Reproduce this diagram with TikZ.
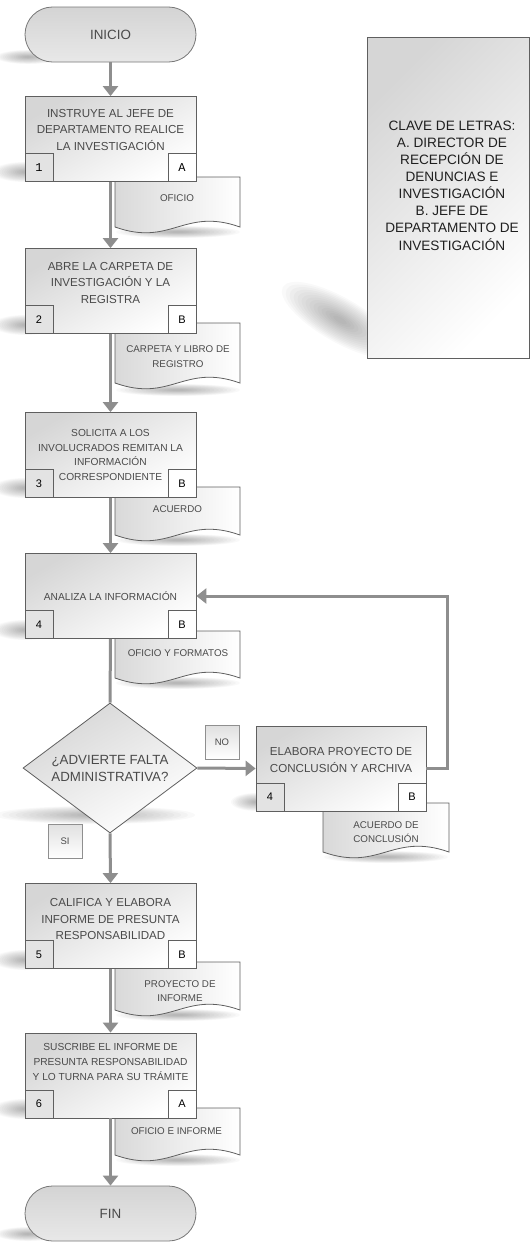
\documentclass[tikz,border=0pt]{standalone}
\usepackage{fontspec}
\setmainfont{Liberation Sans}
\newfontfamily\monofont{Liberation Mono}
\usetikzlibrary{arrows.meta,shapes.geometric}
\definecolor{linegray}{HTML}{8E8E8E}
\definecolor{edgegray}{HTML}{5F5F5F}
\definecolor{txtgray}{HTML}{4A4A4A}
\newcommand\softshadow[4]{\foreach \k in {0,...,13}{\fill[black,opacity=0.024] (#1,#2) ellipse [x radius={#3*(1-0.068*\k)*1pt}, y radius={#4*(1-0.068*\k)*1pt}];}}
\newcommand\docpath[4]{\path[docshape] (#1,#2) -- ({#1+#3},#2) -- ({#1+#3},{#2+#4}) .. controls ({#1+0.55*#3},{#2+#4-20}) and ({#1+0.45*#3},{#2+#4+20}) .. (#1,{#2+#4}) -- cycle;}
\tikzset{
 flow/.style={draw=linegray, line width=3pt, -{Triangle[width=15pt,length=10pt]}},
 plainflow/.style={draw=linegray, line width=3pt},
 procbox/.style={draw=edgegray, line width=0.8pt, top color=black!16, bottom color=white, shading angle=30, minimum width=171pt, minimum height=85pt, inner sep=0pt},
 termbox/.style={draw=edgegray!85, line width=0.8pt, top color=black!17, bottom color=black!9, minimum width=171pt, minimum height=55pt, rounded corners=27.5pt, inner sep=0pt, font=\fontsize{13.4}{16}\selectfont, text=txtgray},
 numbox/.style={draw=edgegray, line width=0.8pt, fill=black!11, minimum width=28pt, minimum height=28pt, inner sep=0pt, font=\fontsize{11}{13}\selectfont, text=black},
 letbox/.style={numbox, fill=white},
 boxtxt/.style={align=center, text=txtgray, font=\fontsize{11.6}{16.6}\selectfont, inner sep=0pt},
 boxtxts/.style={align=center, text=txtgray, font=\fontsize{10.2}{14.6}\selectfont, inner sep=0pt},
 doctxt/.style={align=center, text=txtgray, font=\fontsize{9.8}{14.5}\selectfont, inner sep=0pt},
 docshape/.style={draw=edgegray, line width=0.8pt, left color=black!15, right color=white},
 tagbox/.style={draw=edgegray!70, line width=0.6pt, top color=black!12, bottom color=white, minimum width=34pt, minimum height=34pt, inner sep=0pt, font=\fontsize{9.5}{11}\selectfont, text=txtgray},
}
\begin{document}
\begin{tikzpicture}[x=1pt,y=-1pt]
\useasboundingbox (0,0) rectangle (531,1242);
% shadows
\softshadow{28}{57}{32}{7}
\softshadow{28}{1234}{32}{7}
\softshadow{25}{172}{32}{10}
\softshadow{25}{325}{32}{10}
\softshadow{25}{488}{32}{10}
\softshadow{25}{630}{32}{10}
\softshadow{25}{960}{32}{10}
\softshadow{25}{1109}{32}{10}
\softshadow{256}{802}{25}{9}
\softshadow{178}{232}{62}{6}
\softshadow{178}{390}{62}{6}
\softshadow{178}{540}{62}{6}
\softshadow{178}{683}{62}{6}
\softshadow{386}{857}{62}{6}
\softshadow{178}{1015}{62}{6}
\softshadow{178}{1160}{62}{6}
\softshadow{95}{815}{100}{9}
\begin{scope}[shift={(340,320)}, rotate=-30]
\softshadow{0}{0}{66}{22}
\end{scope}
% legend
\node[draw=edgegray, line width=0.8pt, top color=black!16, bottom color=white, shading angle=45, minimum width=162pt, minimum height=321pt, inner sep=0pt] (leg) at (448,197.5) {};
\node[align=center, text=black!88, font=\fontsize{13.6}{17.1}\selectfont, inner sep=0pt] (legtxt) at (452,185.5) {CLAVE DE LETRAS:\\A. DIRECTOR DE\\RECEPCIÓN DE\\DENUNCIAS E\\INVESTIGACIÓN\\B. JEFE DE\\DEPARTAMENTO DE\\INVESTIGACIÓN};
% documents
\docpath{115}{177}{125}{50}
\node[doctxt] (d1) at (177,198) {OFICIO};
\docpath{115}{323}{125}{60}
\node[doctxt] (d2) at (178,356.5) {CARPETA Y LIBRO DE\\REGISTRO};
\docpath{115}{487}{125}{48}
\node[doctxt] (d3) at (177.5,509) {ACUERDO};
\docpath{115}{631}{125}{47}
\node[doctxt] (d4) at (178,653) {OFICIO Y FORMATOS};
\docpath{323}{803}{126}{49}
\node[doctxt] (d5) at (386,832) {ACUERDO DE\\CONCLUSIÓN};
\docpath{115}{962}{125}{48}
\node[doctxt] (d6) at (180,991) {PROYECTO DE\\INFORME};
\docpath{115}{1108}{125}{47}
\node[doctxt] (d7) at (176.5,1131) {OFICIO E INFORME};
% terminators
\node[termbox] (ini) at (110.5,34.5) {INICIO};
\node[termbox] (fin) at (110.5,1213.5) {FIN};
% process boxes
\node[procbox] (b1) at (110.5,139) {};
\node[boxtxt] (t1) at (110.5,130) {INSTRUYE AL JEFE DE\\DEPARTAMENTO REALICE\\LA INVESTIGACIÓN};
\node[numbox, anchor=south west, font=\monofont\fontsize{12}{13}\selectfont] (n1) at (b1.south west) {1};
\node[letbox, anchor=south east, font=\monofont\fontsize{12}{13}\selectfont] (l1) at (b1.south east) {A};

\node[procbox] (b2) at (110.5,291) {};
\node[boxtxt] (t2) at (110.5,283) {ABRE LA CARPETA DE\\INVESTIGACIÓN Y LA\\REGISTRA};
\node[numbox, anchor=south west] (n2) at (b2.south west) {2};
\node[letbox, anchor=south east] (l2) at (b2.south east) {B};

\node[procbox] (b3) at (110.5,455) {};
\node[boxtxts] (t3) at (110.5,455) {SOLICITA A LOS\\INVOLUCRADOS REMITAN LA\\INFORMACIÓN\\CORRESPONDIENTE};
\node[numbox, anchor=south west] (n3) at (b3.south west) {3};
\node[letbox, anchor=south east] (l3) at (b3.south east) {B};

\node[procbox] (b4) at (110.5,596) {};
\node[boxtxts] (t4) at (110.5,596) {ANALIZA LA INFORMACIÓN};
\node[numbox, anchor=south west] (n4) at (b4.south west) {4};
\node[letbox, anchor=south east] (l4) at (b4.south east) {B};

\node[procbox, minimum width=170pt] (b5) at (341,768.5) {};
\node[boxtxt, font=\fontsize{11.6}{17}\selectfont] (t5) at (341,759.5) {ELABORA PROYECTO DE\\CONCLUSIÓN Y ARCHIVA};
\node[numbox, anchor=south west] (n5) at (b5.south west) {4};
\node[letbox, anchor=south east] (l5) at (b5.south east) {B};

\node[procbox] (b6) at (110.5,926) {};
\node[boxtxt] (t6) at (110.5,919) {CALIFICA Y ELABORA\\INFORME DE PRESUNTA\\RESPONSABILIDAD};
\node[numbox, anchor=south west] (n6) at (b6.south west) {5};
\node[letbox, anchor=south east] (l6) at (b6.south east) {B};

\node[procbox] (b7) at (110.5,1075.5) {};
\node[boxtxts, font=\fontsize{10.2}{15}\selectfont] (t7) at (110.5,1062) {SUSCRIBE EL INFORME DE\\PRESUNTA RESPONSABILIDAD\\Y LO TURNA PARA SU TRÁMITE};
\node[numbox, anchor=south west] (n7) at (b7.south west) {6};
\node[letbox, anchor=south east] (l7) at (b7.south east) {A};
% decision
\node[draw=edgegray, line width=0.8pt, diamond, minimum width=174pt, minimum height=130pt, inner sep=0pt, top color=black!16, bottom color=white, shading angle=30] (dia) at (110,768) {};
\node[align=center, text=txtgray, font=\fontsize{13.3}{17}\selectfont, inner sep=0pt] (diatxt) at (110,768) {¿ADVIERTE FALTA\\ADMINISTRATIVA?};
\node[tagbox] (no) at (222,742.5) {NO};
\node[tagbox] (si) at (65,841) {SI};
% connectors
\draw[flow] (ini.south) -- (b1.north);
\draw[flow] (b1.south) -- (b2.north);
\draw[flow] (b2.south) -- (b3.north);
\draw[flow] (b3.south) -- (b4.north);
\draw[plainflow] (b4.south) -- (dia.north);
\draw[flow] (dia.east) -- (b5.west);
\draw[flow] (b5.east) -- ++(21,0) |- (b4.east);
\draw[flow] (dia.south) -- (b6.north);
\draw[flow] (b6.south) -- (b7.north);
\draw[flow] (b7.south) -- (fin.north);
\end{tikzpicture}
\end{document}
